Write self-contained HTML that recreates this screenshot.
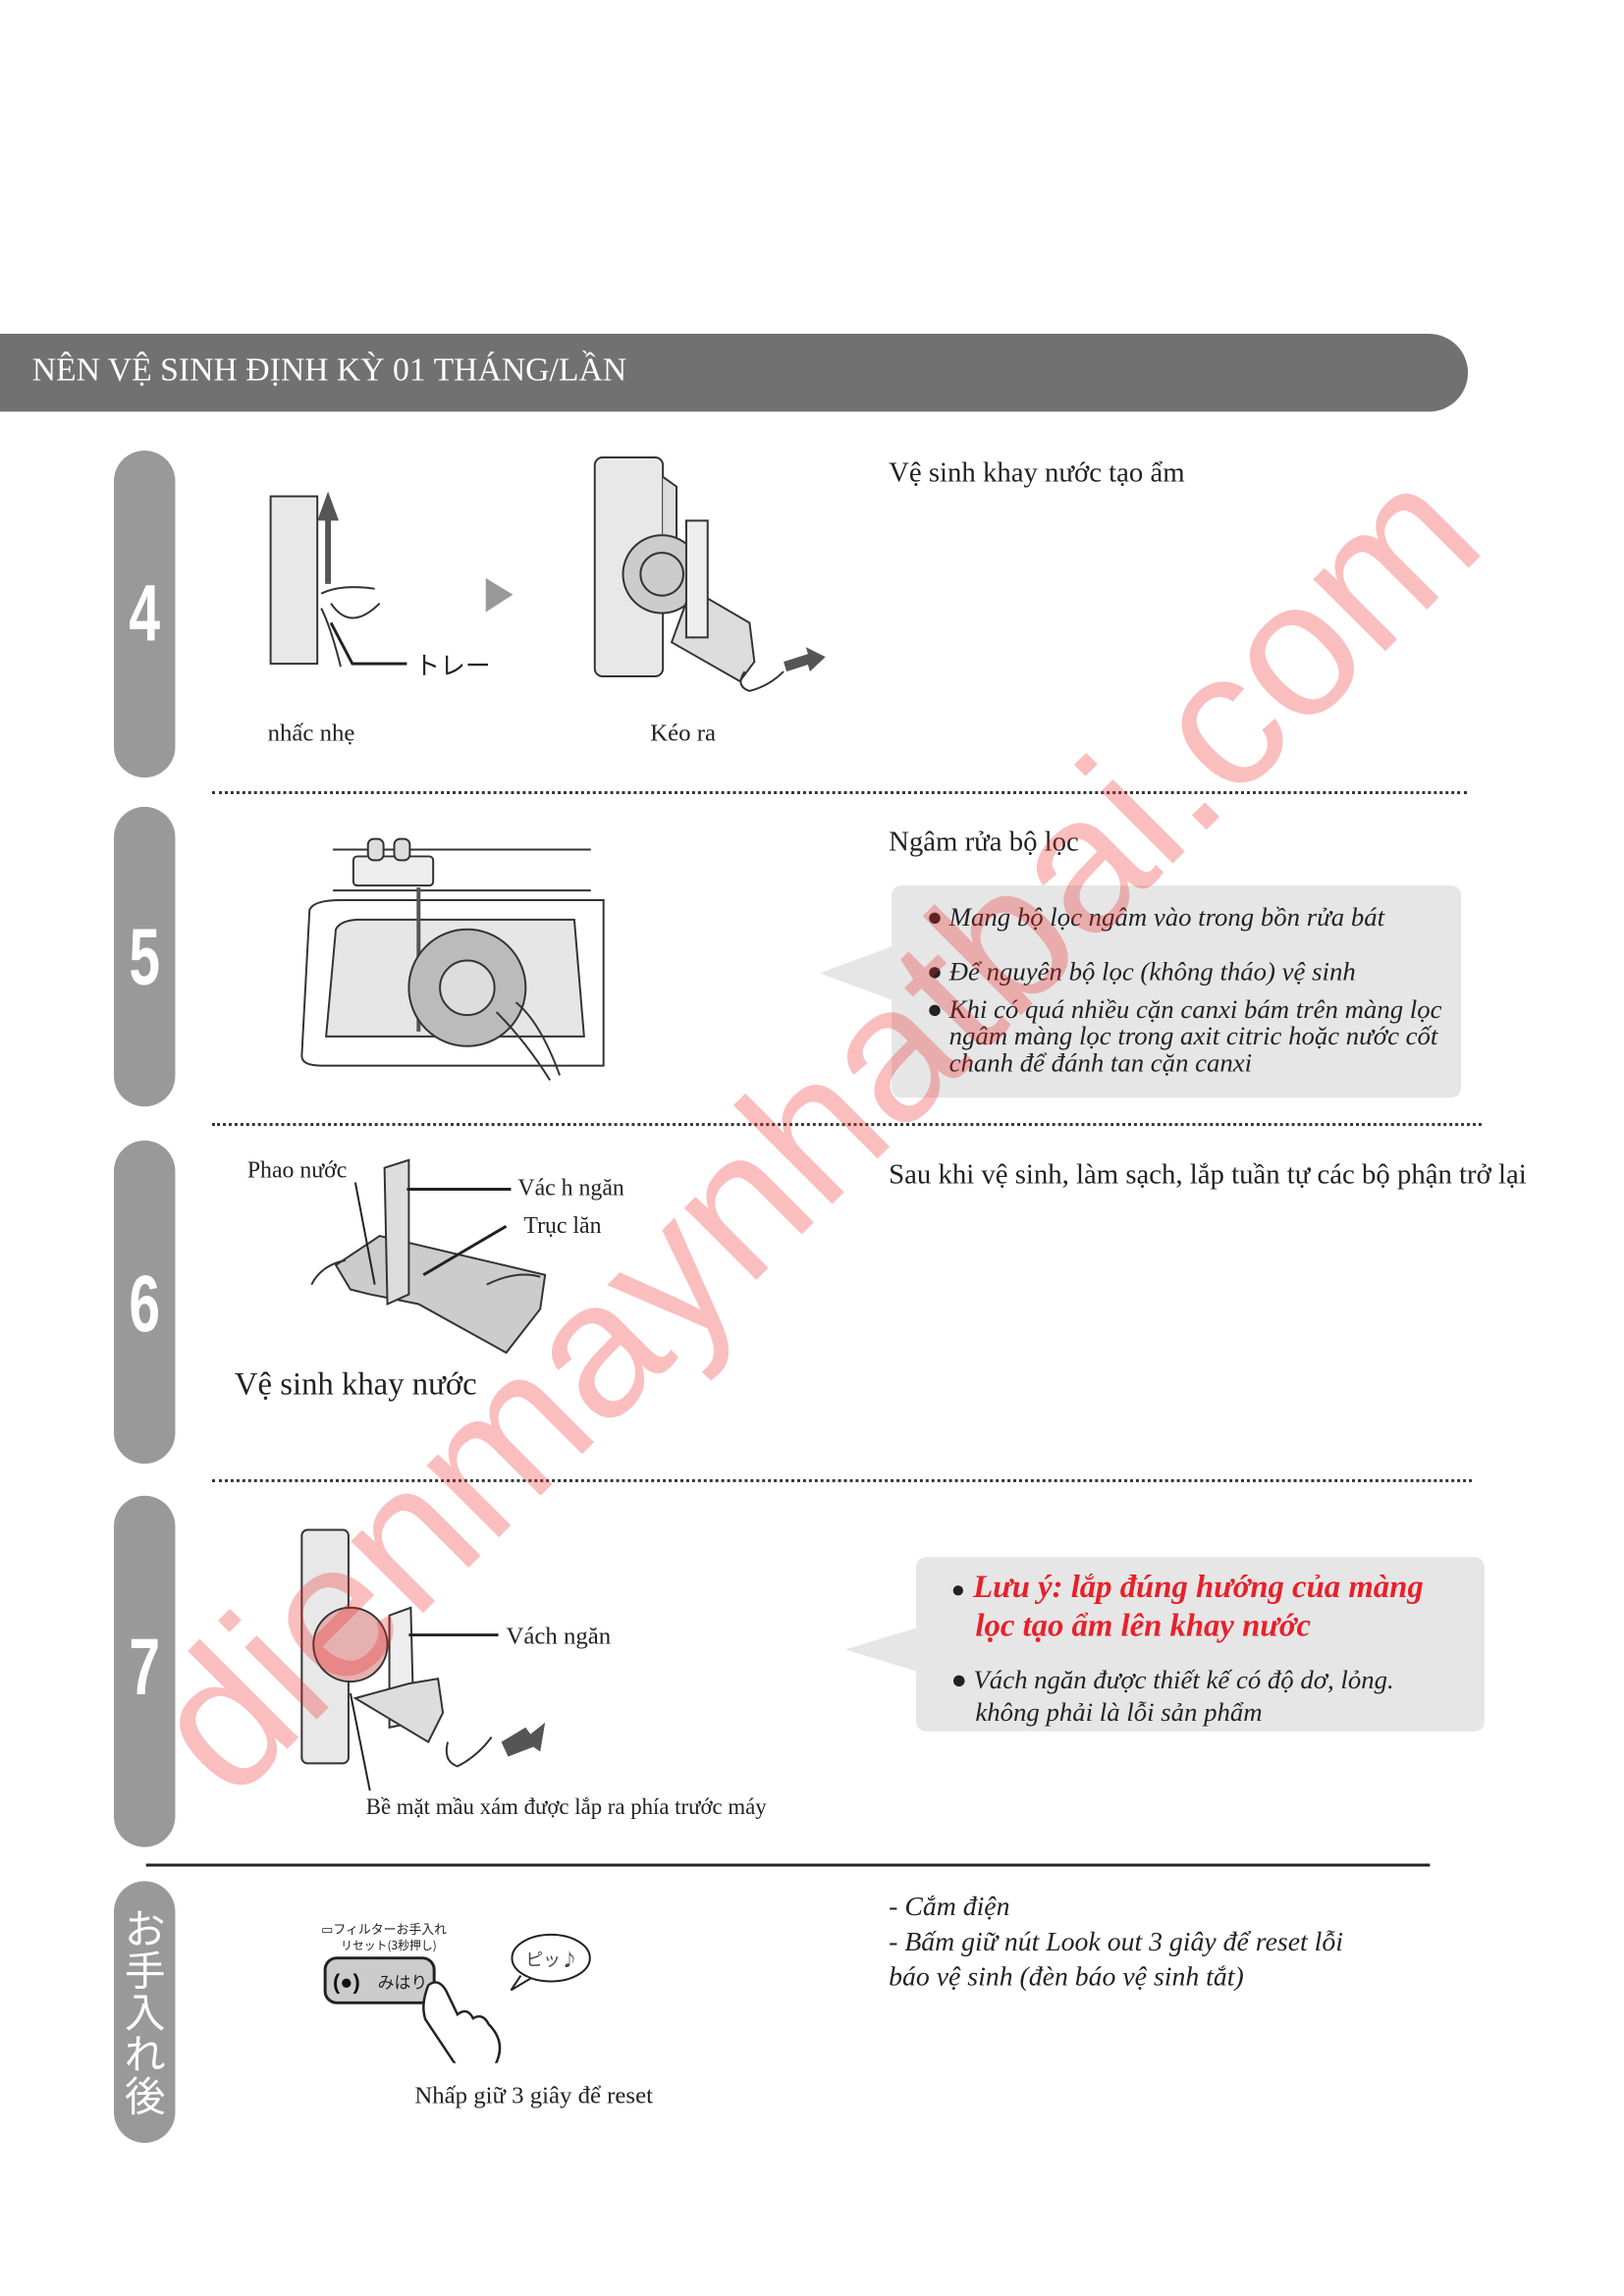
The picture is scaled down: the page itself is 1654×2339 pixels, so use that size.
<!DOCTYPE html>
<html><head><meta charset="utf-8">
<style>
html,body{margin:0;padding:0;background:#fff}
body{width:1654px;height:2339px;position:relative;overflow:hidden;font-family:"Liberation Serif","Noto Serif CJK SC",serif;color:#222}
#w{position:absolute;left:0;top:0;width:1654px;height:2339px;transform:scale(0.9914);transform-origin:0 0}
.a{position:absolute;white-space:nowrap;line-height:1}
.hdr{position:absolute;left:0;top:343px;width:1508px;height:80px;background:#717171;border-radius:0 42px 42px 0}
.tab{position:absolute;left:117px;width:63px;background:#999;border-radius:32px}
.num{position:absolute;left:117px;width:63px;text-align:center;color:#fff;font-family:"Liberation Sans",sans-serif;font-weight:bold;font-size:82px;transform:scaleX(0.7)}
.dot{position:absolute;height:0;border-top:3px dotted #333}
.box{position:absolute;background:#e6e6e6;border-radius:10px}
.t{font-size:29px}
.i{font-style:italic;font-size:27px}
</style></head><body><div id="w">
<div class="hdr"></div>
<div class="a" style="left:33px;top:364px;color:#fff;font-size:34px">NÊN VỆ SINH ĐỊNH KỲ 01 THÁNG/LẦN</div>

<div class="tab" style="top:463px;height:336px"></div>
<div class="tab" style="top:829px;height:308px"></div>
<div class="tab" style="top:1172px;height:332px"></div>
<div class="tab" style="top:1537px;height:361px"></div>
<div class="tab" style="top:1933px;height:269px"></div>
<div class="num a" style="top:590px">4</div>
<div class="num a" style="top:943px">5</div>
<div class="num a" style="top:1300px">6</div>
<div class="num a" style="top:1673px">7</div>
<div class="a" style="left:126px;top:1958px;width:46px;color:#fff;font-family:'Noto Sans CJK JP',sans-serif;font-size:42px;line-height:43px;white-space:normal;text-align:center">お<br>手<br>入<br>れ<br>後</div>

<div class="dot" style="left:218px;top:813px;width:1289px"></div>
<div class="dot" style="left:218px;top:1154px;width:1304px"></div>
<div class="dot" style="left:218px;top:1520px;width:1294px"></div>
<div style="position:absolute;left:150px;top:1915px;width:1319px;height:3px;background:#222"></div>

<!-- Step 4 -->
<svg class="a" style="left:270px;top:460px" width="600" height="260" viewBox="270 460 600 260">
 <rect x="278" y="510" width="48" height="172" fill="#e8e8e8" stroke="#333" stroke-width="2"/>
 <path d="M334 600 L334 535 L326 535 L337 505 L348 535 L340 535 L340 600Z" fill="#555"/>
 <path d="M330 610 q20 -10 55 -5 M330 625 q10 20 20 60 M340 620 q20 30 50 0" fill="none" stroke="#333" stroke-width="2"/>
 <path d="M340 640 L362 682 L418 682" fill="none" stroke="#222" stroke-width="3"/>
 <text x="426" y="693" font-family="Noto Sans CJK JP,sans-serif" font-size="26" fill="#222">トレー</text>
 <path d="M499 594 L527 611 L499 629Z" fill="#999"/>
 <rect x="611" y="470" width="70" height="225" rx="8" fill="#e8e8e8" stroke="#333" stroke-width="2"/>
 <path d="M681 490 L695 500 L695 600 L681 610" fill="#ddd" stroke="#333" stroke-width="2"/>
 <circle cx="680" cy="590" r="40" fill="#ccc" stroke="#333" stroke-width="2"/>
 <circle cx="680" cy="590" r="22" fill="none" stroke="#333" stroke-width="2"/>
 <path d="M690 660 L760 700 L775 680 L770 640 L710 605Z" fill="#ddd" stroke="#333" stroke-width="2"/>
 <rect x="705" y="535" width="22" height="120" fill="#eee" stroke="#333" stroke-width="2"/>
 <path d="M805 680 L830 672 L828 665 L848 675 L832 690 L830 683 L808 690Z" fill="#555"/>
 <path d="M765 690 q-10 15 5 20 q20 -5 35 -20" fill="none" stroke="#333" stroke-width="2"/>
</svg>
<div class="a" style="left:275px;top:741px;font-size:25px">nhấc nhẹ</div>
<div class="a" style="left:668px;top:741px;font-size:25px">Kéo ra</div>
<div class="a t" style="left:913px;top:472px">Vệ sinh khay nước tạo ẩm</div>

<!-- Step 5 -->
<svg class="a" style="left:300px;top:855px" width="340" height="260" viewBox="300 855 340 260">
 <line x1="342" y1="873" x2="607" y2="873" stroke="#333" stroke-width="2"/>
 <line x1="342" y1="915" x2="607" y2="915" stroke="#333" stroke-width="2"/>
 <rect x="363" y="880" width="82" height="30" rx="4" fill="#eee" stroke="#333" stroke-width="2"/>
 <rect x="378" y="862" width="16" height="22" rx="6" fill="#ddd" stroke="#333" stroke-width="2"/>
 <rect x="405" y="862" width="16" height="22" rx="6" fill="#ddd" stroke="#333" stroke-width="2"/>
 <path d="M310 1085 L318 935 Q322 925 350 925 L620 925 L620 1095 L330 1095 Q310 1095 310 1085Z" fill="#fff" stroke="#333" stroke-width="2"/>
 <path d="M335 1065 L345 955 Q350 945 370 945 L590 945 L600 1065Z" fill="#e6e6e6" stroke="#333" stroke-width="2"/>
 <path d="M430 912 L430 1060" stroke="#555" stroke-width="4" fill="none"/>
 <circle cx="480" cy="1015" r="60" fill="#bbb" stroke="#333" stroke-width="2"/>
 <circle cx="480" cy="1015" r="28" fill="#ddd" stroke="#333" stroke-width="2"/>
 <path d="M510 1040 q30 30 55 70 M530 1030 q25 20 45 75" fill="none" stroke="#333" stroke-width="2"/>
</svg>
<div class="a t" style="left:913px;top:851px">Ngâm rửa bộ lọc</div>
<svg class="a" style="left:840px;top:970px" width="80" height="60"><path d="M2 30 L78 2 L78 58Z" fill="#e6e6e6"/></svg>
<div class="box" style="left:916px;top:910px;width:585px;height:218px"></div>
<div class="a i" style="left:952px;top:929px">● Mang bộ lọc ngâm vào trong bồn rửa bát</div>
<div class="a i" style="left:952px;top:985px">● Để nguyên bộ lọc (không tháo) vệ sinh</div>
<div class="a i" style="left:952px;top:1024px">● Khi có quá nhiều cặn canxi bám trên màng lọc</div>
<div class="a i" style="left:975px;top:1051px">ngâm màng lọc trong axit citric hoặc nước cốt</div>
<div class="a i" style="left:975px;top:1079px">chanh để đánh tan cặn canxi</div>

<!-- Step 6 -->
<svg class="a" style="left:310px;top:1185px" width="280" height="220" viewBox="310 1185 280 220">
 <path d="M345 1300 L390 1270 L560 1310 L555 1345 L520 1390 L430 1340 L380 1330 L360 1325Z" fill="#ccc" stroke="#333" stroke-width="2"/>
 <path d="M395 1200 L420 1192 L420 1330 L398 1340Z" fill="#ddd" stroke="#333" stroke-width="2"/>
 <line x1="418" y1="1222" x2="525" y2="1222" stroke="#222" stroke-width="3"/>
 <line x1="435" y1="1310" x2="520" y2="1260" stroke="#222" stroke-width="3"/>
 <line x1="365" y1="1215" x2="385" y2="1320" stroke="#222" stroke-width="2"/>
 <path d="M320 1320 q10 -20 35 -25 M500 1320 q30 -15 55 -8" fill="none" stroke="#333" stroke-width="2"/>
</svg>
<div class="a" style="left:254px;top:1191px;font-size:24px">Phao nước</div>
<div class="a" style="left:532px;top:1209px;font-size:24px">Vác h ngăn</div>
<div class="a" style="left:538px;top:1248px;font-size:24px">Trục lăn</div>
<div class="a" style="left:241px;top:1407px;font-size:33px">Vệ sinh khay nước</div>
<div class="a t" style="left:913px;top:1193px">Sau khi vệ sinh, làm sạch, lắp tuần tự các bộ phận trở lại</div>

<!-- Step 7 -->
<svg class="a" style="left:300px;top:1560px" width="280" height="290" viewBox="300 1560 280 290">
 <rect x="310" y="1572" width="48" height="240" rx="6" fill="#e8e8e8" stroke="#333" stroke-width="2"/>
 <circle cx="360" cy="1690" r="38" fill="#e6b0b0" stroke="#333" stroke-width="2"/>
 <path d="M400 1660 L422 1652 L425 1770 L400 1775Z" fill="#eee" stroke="#333" stroke-width="2"/>
 <path d="M365 1745 L440 1790 L455 1760 L450 1725 L420 1730Z" fill="#ddd" stroke="#333" stroke-width="2"/>
 <line x1="420" y1="1680" x2="512" y2="1680" stroke="#222" stroke-width="3"/>
 <line x1="360" y1="1740" x2="380" y2="1840" stroke="#222" stroke-width="2"/>
 <path d="M515 1790 L540 1775 L545 1782 L560 1770 L555 1800 L548 1795 L522 1805Z" fill="#555"/>
 <path d="M460 1790 q-5 20 10 25 q20 -10 35 -30" fill="none" stroke="#333" stroke-width="2"/>
</svg>
<div class="a" style="left:520px;top:1669px;font-size:25px">Vách ngăn</div>
<div class="a" style="left:376px;top:1845px;font-size:23px">Bề mặt mầu xám được lắp ra phía trước máy</div>
<svg class="a" style="left:866px;top:1670px" width="80" height="50"><path d="M2 25 L78 2 L78 48Z" fill="#e6e6e6"/></svg>
<div class="box" style="left:941px;top:1600px;width:584px;height:179px"></div>
<div class="a" style="left:977px;top:1615px;font-size:33px;font-style:italic;font-weight:bold;color:#e8202a"><span style="color:#222;font-size:24px">●</span> Lưu ý: lắp đúng hướng của màng</div>
<div class="a" style="left:1002px;top:1655px;font-size:33px;font-style:italic;font-weight:bold;color:#e8202a">lọc tạo ẩm lên khay nước</div>
<div class="a i" style="left:977px;top:1713px;font-size:27px">● Vách ngăn được thiết kế có độ dơ, lỏng.</div>
<div class="a i" style="left:1002px;top:1746px;font-size:27px">không phải là lỗi sản phẩm</div>

<!-- Final -->
<svg class="a" style="left:320px;top:1960px" width="300" height="160" viewBox="320 1960 300 160">
 <text x="330" y="1987" font-family="Noto Sans CJK JP,sans-serif" font-size="13" fill="#222">▭フィルターお手入れ</text>
 <text x="350" y="2003" font-family="Noto Sans CJK JP,sans-serif" font-size="12" fill="#222">リセット(3秒押し)</text>
 <rect x="334" y="2012" width="112" height="46" rx="12" fill="#ccc" stroke="#222" stroke-width="3"/>
 <text x="342" y="2044" font-family="Liberation Sans,sans-serif" font-weight="bold" font-size="22" fill="#111">(●)</text>
 <text x="388" y="2043" font-family="Noto Sans CJK JP,sans-serif" font-size="17" fill="#222">みはり</text>
 <path d="M440 2040 q10 -8 18 5 l12 25 q10 -8 16 4 q10 -6 16 6 q20 20 5 45 q-20 20 -40 -5 l-30 -45 q-5 -15 3 -35" fill="#fff" stroke="#222" stroke-width="2.5"/>
 <ellipse cx="566" cy="2012" rx="40" ry="24" fill="#fff" stroke="#222" stroke-width="2"/>
 <path d="M535 2030 L525 2045 L545 2033" fill="#fff" stroke="#222" stroke-width="2"/>
 <text x="540" y="2020" font-family="Noto Sans CJK JP,sans-serif" font-size="18" fill="#444">ピッ♪</text>
</svg>
<div class="a" style="left:426px;top:2141px;font-size:25px">Nhấp giữ 3 giây để reset</div>
<div class="a i" style="left:913px;top:1946px;font-size:28px">- Cắm điện</div>
<div class="a i" style="left:913px;top:1982px;font-size:28px">- Bấm giữ nút Look out 3 giây để reset lỗi</div>
<div class="a i" style="left:913px;top:2018px;font-size:28px">báo vệ sinh (đèn báo vệ sinh tắt)</div>

<!-- watermark -->
<div class="a" style="left:836px;top:1160px;transform:translate(-50%,-50%) rotate(-45deg);font-family:'Liberation Sans',sans-serif;font-size:198px;color:rgba(240,40,40,0.3)">dienmaynhatbai.com</div>
</div></body></html>
